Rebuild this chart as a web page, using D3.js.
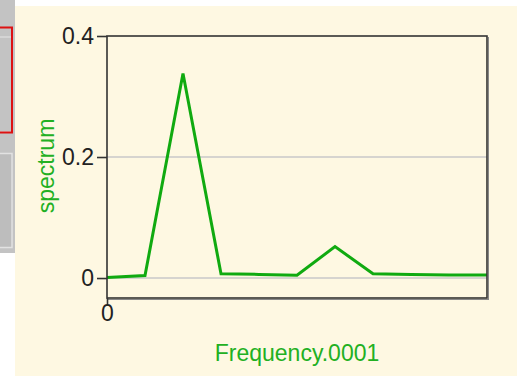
<!DOCTYPE html>
<html><head><meta charset="utf-8">
<script src="https://cdn.jsdelivr.net/npm/d3@7"></script>
<style>
html,body{margin:0;padding:0;background:#fff;}
svg{display:block;}
</style></head>
<body>
<svg id="c" width="517" height="376"></svg>
<script>
// Data
const frequencies = [0,1,2,3,4,5,6,7,8,9,10];
const spectrum = [0.001,0.004,0.338,0.007,0.006,0.0045,0.052,0.007,0.006,0.005,0.005];
const yTicks = [0,0.2,0.4];
const yTickLabels = ["0","0.2","0.4"];
const xTicks = [0];
const xTickLabels = ["0"];
const xLabel = "Frequency.0001";
const yLabel = "spectrum";

const svg = d3.select("#c");
const font = "'Liberation Sans', Arial, sans-serif";
const green = "#10aa10";
const labelGreen = "#22b022";

// page panels
svg.append("rect").attr("x",15).attr("y",6).attr("width",502).attr("height",370).attr("fill","#fef8e2");
svg.append("rect").attr("x",0).attr("y",0).attr("width",15).attr("height",253).attr("fill","#c3c3c3");
svg.append("rect").attr("x",-2).attr("y",37).attr("width",14).attr("height",95).attr("fill","none").attr("stroke","#e6e6e6").attr("stroke-width",1);
svg.append("rect").attr("x",-2).attr("y",27.5).attr("width",14).attr("height",105).attr("fill","none").attr("stroke","#dd1111").attr("stroke-width",2);
svg.append("rect").attr("x",-2).attr("y",153.5).attr("width",14).attr("height",94).attr("fill","#bdbdbd").attr("stroke","#e2e2e2").attr("stroke-width",1.5);

const x = d3.scaleLinear().domain([0,10]).range([107,487]);
const y = d3.scaleLinear().domain([-0.033,0.4]).range([298,36]);

// gridlines
svg.append("g").selectAll("line").data(yTicks.filter(d=>d<0.4)).join("line")
  .attr("x1",107).attr("x2",487).attr("y1",d=>y(d)).attr("y2",d=>y(d))
  .attr("stroke","#c8c8c8").attr("stroke-width",1.5);

// line
svg.append("path").datum(frequencies.map((f,i)=>[f,spectrum[i]]))
  .attr("d", d3.line().x(d=>x(d[0])).y(d=>y(d[1])))
  .attr("fill","none").attr("stroke",green).attr("stroke-width",3).attr("stroke-linejoin","miter");

// frame
svg.append("rect").attr("x",107).attr("y",36).attr("width",380).attr("height",262)
  .attr("fill","none").attr("stroke","#333").attr("stroke-width",1.6);
svg.append("line").attr("x1",488.5).attr("x2",488.5).attr("y1",37).attr("y2",299.5).attr("stroke","#888").attr("stroke-width",1);
svg.append("line").attr("x1",108).attr("x2",489).attr("y1",299.5).attr("y2",299.5).attr("stroke","#888").attr("stroke-width",1);

// axes
const yAxis = d3.axisLeft(y).tickValues(yTicks).tickFormat((d,i)=>yTickLabels[i]).tickSize(10).tickPadding(3);
const gy = svg.append("g").attr("transform","translate(107,0)").call(yAxis);
gy.select(".domain").remove();
gy.selectAll("line").attr("stroke","#333").attr("stroke-width",1.6);
gy.selectAll("text").attr("font-family",font).attr("font-size",23).attr("fill","#222");

const xAxis = d3.axisBottom(x).tickValues(xTicks).tickFormat((d,i)=>xTickLabels[i]).tickSize(6).tickPadding(1);
const gx = svg.append("g").attr("transform","translate(0,298)").call(xAxis);
gx.select(".domain").remove();
gx.selectAll("line").attr("stroke","#333").attr("stroke-width",1.6);
gx.selectAll("text").attr("font-family",font).attr("font-size",23).attr("fill","#222");

// labels
svg.append("text").attr("x",297).attr("y",361).attr("text-anchor","middle")
  .attr("font-family",font).attr("font-size",23).attr("fill",labelGreen).text(xLabel);
svg.append("text").attr("transform","translate(54,166) rotate(-90)").attr("text-anchor","middle")
  .attr("font-family",font).attr("font-size",23).attr("fill",labelGreen).text(yLabel);
</script>
</body></html>
